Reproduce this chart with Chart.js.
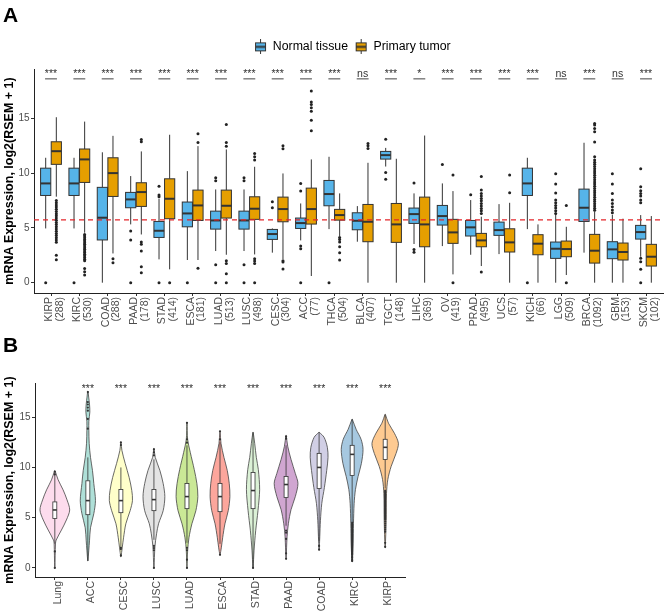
<!DOCTYPE html>
<html>
<head>
<meta charset="utf-8">
<script src="https://cdn.jsdelivr.net/npm/chart.js@4.4.1/dist/chart.umd.min.js"></script>
<style>
  html, body { margin: 0; padding: 0; background: #fff; }
  body { width: 671px; height: 615px; position: relative; overflow: hidden; font-family: "Liberation Sans", Arial, sans-serif; }
  canvas { position: absolute; left: 0; }
  .tag { position: absolute; left: 3px; font-size: 21px; line-height: 21px; font-weight: bold; color: #000; }
</style>
</head>
<body>
<canvas id="chartA" width="671" height="340" style="top:0"></canvas>
<canvas id="chartB" width="671" height="285" style="top:330px"></canvas>
<div class="tag" style="top:4px">A</div>
<div class="tag" style="top:334px">B</div>
<script>
// ---------- panel A: normal vs tumour, per cancer type ----------
var cancersA = ['KIRP','KIRC','COAD','PAAD','STAD','ESCA','LUAD','LUSC','CESC','ACC','THCA',
                'BLCA','TGCT','LIHC','OV','PRAD','UCS','KICH','LGG','BRCA','GBM','SKCM'];
var tumorCounts = [288,530,288,178,414,181,513,498,304,77,504,407,148,369,419,495,57,66,509,1092,153,102];
var signifA = ['***','***','***','***','***','***','***','***','***','***','***',
               'ns','***','*','***','***','***','***','ns','***','ns','***'];

// [lower whisker, Q1, median, Q3, upper whisker]
var normalStats = [
  [4.95, 7.96, 9.06, 10.45, 11.4],   // KIRP
  [4.95, 7.96, 9.06, 10.45, 11.4],   // KIRC
  [0, 3.9, 5.93, 8.7, 11.9],         // COAD
  [5.32, 6.84, 7.6, 8.24, 9.73],     // PAAD
  [2.13, 4.13, 4.74, 5.59, 7.66],    // STAD
  [2.07, 5.1, 6.32, 7.36, 10.18],    // ESCA
  [2.89, 4.89, 5.68, 6.53, 8.51],    // LUAD
  [2.89, 4.89, 5.68, 6.53, 8.51],    // LUSC
  [2.74, 3.95, 4.44, 4.86, 4.95],    // CESC
  [3.86, 4.95, 5.44, 5.9, 7.23],     // ACC
  [4.89, 7.02, 8.09, 9.33, 11.49],   // THCA
  [3.74, 4.83, 5.65, 6.38, 6.99],    // BLCA
  [10.6, 11.28, 11.64, 11.98, 12.3], // TGCT
  [3.53, 5.41, 6.26, 6.81, 8.15],    // LIHC
  [3.34, 5.26, 6.08, 7.05, 9.06],    // OV
  [2.55, 4.26, 5.05, 5.68, 7.54],    // PRAD
  [2.61, 4.32, 4.8, 5.53, 7.17],     // UCS
  [4.89, 7.96, 9.06, 10.45, 11.4],   // KICH
  [0, 2.22, 3.1, 3.71, 6.26],        // LGG
  [2.74, 5.59, 6.84, 8.54, 12.77],   // BRCA
  [0, 2.19, 3.04, 3.74, 6.2],        // GBM
  [2.37, 3.98, 4.62, 5.23, 6.17]     // SKCM
];
var tumorStats = [
  [7.85, 10.8, 12.0, 12.86, 15.1],
  [4.56, 9.15, 11.25, 12.2, 14.7],
  [2.67, 7.87, 10.0, 11.4, 13.4],
  [4.4, 6.96, 8.27, 9.12, 11.98],
  [1.22, 5.84, 7.66, 9.48, 13.5],
  [2.07, 5.68, 7.05, 8.45, 12.46],
  [2.55, 5.9, 7.02, 8.45, 12.16],
  [2.58, 5.78, 6.75, 7.84, 10.58],
  [2.16, 5.56, 6.72, 7.81, 9.97],
  [0.61, 5.35, 6.72, 8.63, 11.25],
  [4.26, 5.71, 6.17, 6.69, 8.15],
  [0, 3.74, 5.56, 7.14, 10.94],
  [0, 3.68, 5.32, 7.23, 11.31],
  [0, 3.28, 5.32, 7.81, 13.43],
  [0.76, 3.59, 4.59, 5.78, 8.36],
  [1.52, 3.28, 3.86, 4.5, 6.02],
  [0, 2.8, 3.68, 4.92, 7.29],
  [0, 2.55, 3.56, 4.38, 5.32],
  [0.7, 2.37, 3.07, 3.8, 5.1],
  [0, 1.79, 2.92, 4.41, 6.5],
  [0, 2.07, 2.8, 3.62, 5.84],
  [0, 1.52, 2.37, 3.5, 6.08]
];
var normalOutliers = [
  [0], [0], [], [4.71, 3.89, 0], [8.81, 8.0, 7.84, 0], [0], [9.57, 9.3, 1.64, 0], [9.57, 9.3, 1.64, 0],
  [7.39, 6.84], [9.06, 8.36, 3.34, 3.1, 0], [0], [], [13.1, 10.06, 9.45], [9.09, 3.04, 2.77], [10.79],
  [8.02], [], [0], [9.94, 9.0, 8.18, 7.54, 7.3, 7.05, 6.81, 6.56, 6.32], [],
  [9.94, 9.0, 8.15, 7.54, 7.23, 6.93, 6.63, 6.38],
  [10.4, 8.75, 8.39, 8.15, 7.9, 7.54, 7.3, 2.22, 1.91, 1.22, 0]
];
var tumorOutliers = [
  [7.5, 7.3, 7.1, 6.9, 6.7, 6.5, 6.3, 6.1, 5.9, 5.7, 5.5, 5.3, 5.1, 4.9, 4.7, 4.5, 4.3, 4.1, 3.9, 3.7, 2.5, 2.1],
  [4.4, 4.25, 4.1, 3.95, 3.8, 3.65, 3.5, 3.35, 3.2, 3.05, 2.9, 2.75, 2.6, 2.45, 2.3, 2.15, 2.0, 1.3, 1.0, 0.7],
  [2.19, 1.82],
  [13.07, 12.86, 3.71, 3.5, 2.89, 1.46, 0.91],
  [0],
  [13.6, 12.8, 1.31],
  [14.44, 12.8, 12.46, 2.0, 1.76, 0.82, 0],
  [11.8, 11.5, 11.2, 2.19, 1.98, 1.76, 0],
  [12.49, 12.22, 2.0, 1.88, 1.25],
  [17.5, 16.5, 16.26, 15.96, 15.65, 14.83, 13.86],
  [4.13, 3.95, 3.71, 3.28, 2.74, 2.07],
  [12.7, 12.49, 12.25],
  [], [],
  [9.82, 0],
  [9.7, 8.45, 8.15, 7.9, 7.69, 7.48, 7.23, 6.99, 6.78, 6.56, 6.32, 0.97],
  [9.82, 8.2],
  [],
  [7.05, 0],
  [6.6, 6.8, 7.0, 7.2, 7.4, 7.6, 7.8, 8.0, 8.2, 8.4, 8.6, 8.8, 9.0, 9.2, 9.4, 9.6, 9.8, 10.0,
   10.2, 10.4, 10.6, 10.8, 11.0, 11.2, 11.5, 12.83, 13.77, 14.07, 14.38, 14.53],
  [], []
];
var cutoffA = 5.73;

// ---------- panel B: tumour types vs normal lung ----------
var groupsB = ['Lung','ACC','CESC','LUSC','LUAD','ESCA','STAD','PAAD','COAD','KIRC','KIRP'];
var signifB = ['','***','***','***','***','***','***','***','***','***','***'];
var statsB = [
  [2.4, 4.93, 5.77, 6.57, 9.5],
  [0.7, 5.3, 6.7, 8.67, 11.0],
  [2.0, 5.5, 6.7, 7.8, 10.0],
  [2.8, 5.7, 6.8, 7.8, 10.8],
  [2.5, 5.9, 7.1, 8.4, 12.2],
  [2.4, 5.6, 7.1, 8.4, 12.5],
  [0, 5.9, 7.7, 9.5, 13.5],
  [4.2, 7.0, 8.3, 9.1, 12.2],
  [2.7, 7.9, 10.0, 11.4, 13.5],
  [4.6, 9.2, 11.3, 12.2, 14.8],
  [7.9, 10.8, 12.0, 12.8, 15.2]
];
var outliersB = [
  [9.57, 9.3, 1.64, 0],
  [17.5, 16.5, 16.26, 15.96, 15.65, 14.83, 13.86],
  [12.49, 12.22, 2.0, 1.88, 1.25],
  [11.8, 11.5, 11.2, 2.19, 1.98, 1.76, 0],
  [14.44, 12.8, 12.46, 2.0, 1.76, 0.82, 0],
  [13.6, 12.8, 1.31],
  [0],
  [13.07, 12.86, 3.71, 3.5, 2.89, 1.46, 0.91],
  [2.19, 1.82],
  [4.5, 4.4, 4.3, 4.2, 4.1, 4.0, 3.9, 3.8, 3.7, 3.6, 3.5, 3.4, 3.3, 3.2, 3.1, 3.0, 2.9, 2.8, 2.7,
   2.6, 2.5, 2.4, 2.3, 2.2, 2.1, 2.0, 1.9, 1.8, 1.7, 1.6, 1.5, 1.4, 1.3, 1.1, 1.0, 0.8, 0.7],
  [7.7, 7.6, 7.5, 7.4, 7.3, 7.2, 7.1, 7.0, 6.9, 6.8, 6.7, 6.6, 6.5, 6.4, 6.3, 6.2, 6.1, 6.0, 5.9,
   5.8, 5.7, 5.6, 5.5, 5.4, 5.3, 5.2, 5.1, 5.0, 4.9, 4.8, 4.6, 4.4, 4.2, 4.0, 3.8, 3.6, 2.5, 2.1]
];
// violin outline: [expression, density half-width in category units]
var violinB = [
  [[0,0.004],[2.4,0.02],[2.77,0.04],[3.77,0.2],[4.77,0.35],[5.77,0.45],[6.77,0.37],[7.77,0.25],[8.77,0.1],[9.7,0.004]],
  [[0.7,0.004],[2.7,0.05],[4.0,0.08],[5.4,0.18],[6.7,0.23],[8.4,0.18],[9.7,0.14],[11.0,0.08],[12.4,0.04],[13.7,0.03],[14.6,0.03],[15.5,0.06],[16.3,0.05],[17.0,0.025],[17.6,0.004]],
  [[1.1,0.004],[2.0,0.04],[3.0,0.08],[4.4,0.15],[5.7,0.28],[6.7,0.35],[7.7,0.33],[9.0,0.25],[10.4,0.13],[11.7,0.03],[12.5,0.004]],
  [[0,0.004],[2.1,0.03],[3.4,0.08],[4.4,0.14],[5.7,0.28],[7.1,0.33],[8.4,0.28],[9.7,0.18],[11.0,0.04],[11.9,0.004]],
  [[0,0.004],[1.7,0.02],[3.0,0.06],[4.4,0.15],[5.7,0.27],[7.1,0.33],[8.4,0.3],[9.8,0.22],[11.5,0.1],[12.8,0.02],[14.5,0.004]],
  [[1.3,0.004],[2.0,0.04],[3.0,0.08],[4.4,0.15],[5.7,0.25],[7.1,0.3],[8.4,0.28],[9.7,0.22],[11.0,0.12],[12.4,0.03],[13.6,0.004]],
  [[0,0.004],[1.7,0.03],[3.7,0.08],[5.7,0.15],[7.8,0.2],[9.8,0.16],[11.0,0.1],[12.4,0.05],[13.5,0.004]],
  [[0.9,0.004],[3.1,0.03],[4.4,0.07],[5.8,0.15],[7.1,0.28],[8.4,0.36],[9.4,0.28],[10.8,0.15],[12.1,0.05],[13.2,0.004]],
  [[1.8,0.004],[3.1,0.02],[4.7,0.04],[6.4,0.08],[8.0,0.16],[9.7,0.23],[11.0,0.27],[12.0,0.25],[13.0,0.15],[13.5,0.004]],
  [[0.6,0.004],[2.4,0.03],[4.4,0.04],[6.4,0.06],[7.8,0.1],[9.1,0.18],[10.4,0.28],[11.8,0.33],[12.8,0.27],[13.8,0.12],[14.8,0.004]],
  [[2.0,0.004],[4.7,0.03],[7.4,0.04],[8.8,0.08],[10.1,0.18],[11.4,0.33],[12.4,0.4],[13.4,0.28],[14.4,0.1],[15.3,0.004]]
];
var violinColors = ['#FCCDE5','#8DD3C7','#FFFFB3','#D9D9D9','#B3DE69','#FB8072',
                    '#CCEBC5','#BC80BD','#BEBADA','#80B1D3','#FDB462'];

var NORMAL_COL = '#56B4E9', TUMOR_COL = '#E69F00';
var DODGE = 0.1875, BOX_HALF = 0.18;
var FONT = '"Liberation Sans", Arial, sans-serif';
var yTitle = 'mRNA Expression, log2(RSEM + 1)';

Chart.defaults.font.family = FONT;
Chart.defaults.color = '#4d4d4d';

function hexA(hex, a) {
  var n = parseInt(hex.slice(1), 16);
  return 'rgba(' + (n >> 16) + ',' + ((n >> 8) & 255) + ',' + (n & 255) + ',' + a + ')';
}

function outlierPoints(list, shift) {
  var pts = [];
  list.forEach(function(vals, i) {
    vals.forEach(function(v) { pts.push({x: i + shift, y: v}); });
  });
  return pts;
}

// one box: whiskers, IQR box, median
function drawBox(ctx, xs, ys, cx, half, s, fill, lw, medW) {
  var px = xs.getPixelForValue(cx);
  var L = xs.getPixelForValue(cx - half), R = xs.getPixelForValue(cx + half);
  var top = ys.getPixelForValue(s[3]), bot = ys.getPixelForValue(s[1]);
  ctx.strokeStyle = '#333';
  ctx.lineWidth = lw;
  ctx.beginPath();
  ctx.moveTo(px, ys.getPixelForValue(s[4])); ctx.lineTo(px, top);
  ctx.moveTo(px, bot); ctx.lineTo(px, ys.getPixelForValue(s[0]));
  ctx.stroke();
  ctx.fillStyle = fill;
  ctx.fillRect(L, top, R - L, bot - top);
  ctx.strokeRect(L, top, R - L, bot - top);
  ctx.lineWidth = medW;
  ctx.beginPath();
  var m = ys.getPixelForValue(s[2]);
  ctx.moveTo(L, m); ctx.lineTo(R, m);
  ctx.stroke();
}

var boxesA = {
  id: 'boxesA',
  beforeDatasetsDraw: function(chart) {
    var ctx = chart.ctx, x = chart.scales.x, y = chart.scales.y;
    ctx.save();
    for (var i = 0; i < cancersA.length; i++) {
      drawBox(ctx, x, y, i - DODGE, BOX_HALF, normalStats[i], NORMAL_COL, 1, 2);
      drawBox(ctx, x, y, i + DODGE, BOX_HALF, tumorStats[i], TUMOR_COL, 1, 2);
      // comparison label
      var ly = y.getPixelForValue(18.6);
      ctx.strokeStyle = '#444'; ctx.lineWidth = 1;
      ctx.beginPath();
      ctx.moveTo(x.getPixelForValue(i - 0.21), ly);
      ctx.lineTo(x.getPixelForValue(i + 0.21), ly);
      ctx.stroke();
      ctx.fillStyle = '#333';
      ctx.font = '10.5px ' + FONT;
      ctx.textAlign = 'center';
      ctx.textBaseline = 'alphabetic';
      ctx.fillText(signifA[i], x.getPixelForValue(i), y.getPixelForValue(18.75));
    }
    ctx.restore();
  }
};

var boxesB = {
  id: 'boxesB',
  afterDatasetsDraw: function(chart) {
    var ctx = chart.ctx, x = chart.scales.x, y = chart.scales.y;
    ctx.save();
    for (var i = 0; i < groupsB.length; i++) {
      drawBox(ctx, x, y, i, 0.06, statsB[i], '#fff', 0.8, 1.6);
      ctx.fillStyle = '#333';
      ctx.font = '10.5px ' + FONT;
      ctx.textAlign = 'center';
      ctx.textBaseline = 'alphabetic';
      ctx.fillText(signifB[i], x.getPixelForValue(i), y.getPixelForValue(17.5));
    }
    ctx.restore();
  }
};

// ggplot-like legend position
var legendNudge = {
  id: 'legendNudge',
  afterLayout: function(chart) {
    var l = chart.legend;
    if (l) { l.top -= 6; l.bottom -= 6; l.left += 4; l.right += 4; }
  }
};

function legendIcon(fill) {
  var c = document.createElement('canvas');
  c.width = 13; c.height = 15;
  var g = c.getContext('2d');
  g.strokeStyle = '#333'; g.lineWidth = 1;
  g.beginPath(); g.moveTo(6.5, 0); g.lineTo(6.5, 15); g.stroke();
  g.fillStyle = fill;
  g.fillRect(1.5, 3.5, 10, 8); g.strokeRect(1.5, 3.5, 10, 8);
  g.lineWidth = 2;
  g.beginPath(); g.moveTo(1.5, 7.5); g.lineTo(11.5, 7.5); g.stroke();
  return c;
}

function yAxis(min, max, width) {
  return {
    min: min, max: max,
    afterBuildTicks: function(s) { s.ticks = [0, 5, 10, 15].map(function(v) { return {value: v}; }); },
    afterFit: function(s) { s.width = width; },
    grid: { drawOnChartArea: false, tickLength: 3, color: '#333' },
    border: { display: true, color: '#222', width: 1 },
    ticks: { padding: 1.5, color: '#4d4d4d', font: { size: 10 } },
    title: { display: true, text: yTitle, color: '#000', font: { size: 12.5, weight: 'bold' }, padding: { top: 2, bottom: 0 } }
  };
}

function xAxis(n, height, labelFn, offset) {
  return {
    min: -0.6, max: n - 0.4,
    afterBuildTicks: function(s) {
      var t = [];
      for (var i = 0; i < n; i++) t.push({value: i});
      s.ticks = t;
    },
    afterFit: function(s) { s.height = height; },
    grid: { drawOnChartArea: false, tickLength: 3, color: '#333' },
    border: { display: true, color: '#222', width: 1 },
    ticks: {
      autoSkip: false, minRotation: 90, maxRotation: 90, padding: 1, labelOffset: offset,
      color: '#4d4d4d', font: { size: 10.5, lineHeight: 1.02 },
      callback: labelFn
    }
  };
}

// ---------- chart A ----------
new Chart(document.getElementById('chartA'), {
  type: 'scatter',
  data: {
    datasets: [
      { label: 'Normal tissue', data: outlierPoints(normalOutliers, -DODGE),
        pointRadius: 1.5, pointBackgroundColor: '#222', pointBorderWidth: 0 },
      { label: 'Primary tumor', data: outlierPoints(tumorOutliers, DODGE),
        pointRadius: 1.5, pointBackgroundColor: '#222', pointBorderWidth: 0 },
      { type: 'line', label: 'cutoff', data: [{x: -0.6, y: cutoffA}, {x: 21.6, y: cutoffA}],
        borderColor: '#E3262B', borderDash: [5, 4], borderWidth: 1.2, pointRadius: 0, fill: false }
    ]
  },
  options: {
    responsive: false, animation: false, events: [],
    layout: { padding: { top: 39.7, right: 8, left: 0, bottom: 0 } },
    plugins: {
      tooltip: { enabled: false },
      legend: {
        position: 'top', fullSize: false,
        labels: {
          usePointStyle: true, padding: 7, color: '#222', font: { size: 12.3 },
          generateLabels: function() {
            return [
              { text: 'Normal tissue', pointStyle: legendIcon(NORMAL_COL), fillStyle: NORMAL_COL, strokeStyle: '#333', lineWidth: 0, hidden: false, datasetIndex: 0 },
              { text: 'Primary tumor', pointStyle: legendIcon(TUMOR_COL), fillStyle: TUMOR_COL, strokeStyle: '#333', lineWidth: 0, hidden: false, datasetIndex: 1 }
            ];
          }
        }
      }
    },
    scales: {
      x: xAxis(cancersA.length, 47, function(v) { return [cancersA[v], '(' + tumorCounts[v] + ')']; }, -2),
      y: yAxis(-0.94, 19.5, 34)
    }
  },
  plugins: [boxesA, legendNudge]
});

// ---------- chart B ----------
var violinSets = groupsB.map(function(g, i) {
  var prof = violinB[i];
  var right = prof.map(function(p) { return {x: i + p[1], y: p[0]}; });
  var left = prof.slice().reverse().map(function(p) { return {x: i - p[1], y: p[0]}; });
  return {
    type: 'line', label: g, data: right.concat(left, [right[0]]),
    borderColor: '#444', borderWidth: 0.8, backgroundColor: hexA(violinColors[i], 0.7),
    fill: 'shape', tension: 0.3, pointRadius: 0, order: 1
  };
});

new Chart(document.getElementById('chartB'), {
  type: 'scatter',
  data: {
    datasets: [
      { label: 'outliers', data: outlierPoints(outliersB, 0), pointRadius: 1.1,
        pointBackgroundColor: '#333', pointBorderWidth: 0, order: 0 }
    ].concat(violinSets)
  },
  options: {
    responsive: false, animation: false, events: [],
    layout: { padding: { top: 53, right: 266, left: 0, bottom: 0 } },
    plugins: { legend: { display: false }, tooltip: { enabled: false } },
    scales: {
      x: xAxis(groupsB.length, 38, function(v) { return groupsB[v]; }, 3),
      y: yAxis(-0.9, 18.4, 35)
    }
  },
  plugins: [boxesB]
});
</script>
</body>
</html>
